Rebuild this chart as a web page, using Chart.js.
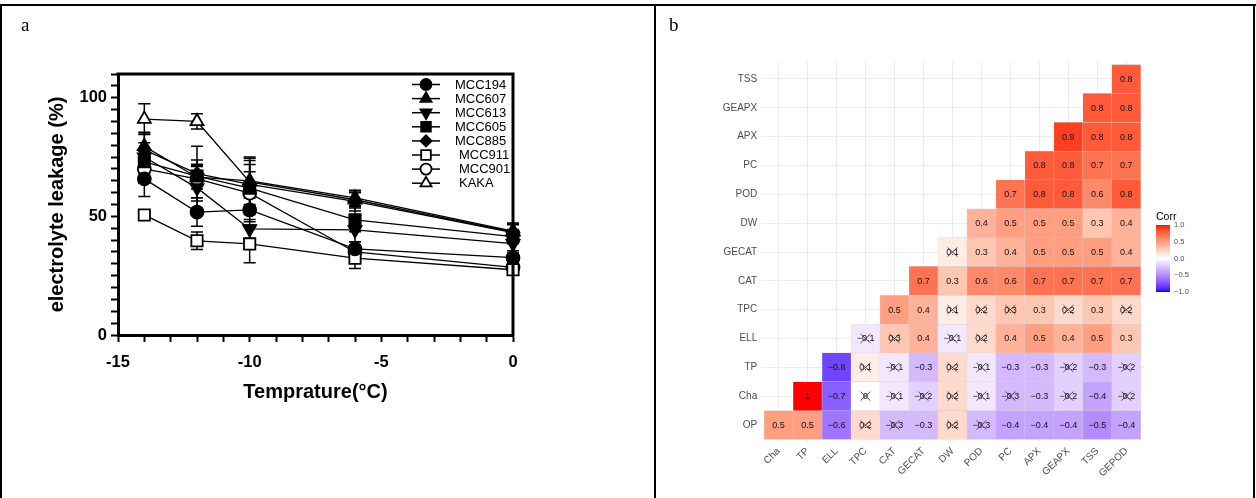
<!DOCTYPE html>
<html>
<head>
<meta charset="utf-8">
<script src="https://cdn.jsdelivr.net/npm/chart.js@4.4.1/dist/chart.umd.min.js"></script>
<style>
  html, body { margin: 0; padding: 0; background: #fff; }
  body { width: 1256px; height: 498px; position: relative; overflow: hidden; }
  canvas { position: absolute; }
  .rule { position: absolute; background: #000; }
  .tag { position: absolute; font-family: "Liberation Serif", "Times New Roman", serif; font-size: 19px; color: #000; }
</style>
</head>
<body>
<canvas id="leak" width="654" height="498" style="left:0;top:0"></canvas>
<canvas id="heat" width="597" height="491" style="left:657px;top:7px"></canvas>

<div class="rule" style="left:0;top:4px;width:1256px;height:2px"></div>
<div class="rule" style="left:0;top:4px;width:2px;height:494px"></div>
<div class="rule" style="left:654px;top:4px;width:2px;height:494px"></div>
<div class="rule" style="left:1253px;top:4px;width:2px;height:494px"></div>
<div class="tag" style="left:21px;top:14px">a</div>
<div class="tag" style="left:669px;top:14px">b</div>

<script>
// ---- panel a: electrolyte leakage ----
const temps = [-14, -12, -10, -6, 0];
const strains = ['MCC194', 'MCC607', 'MCC613', 'MCC605', 'MCC885', 'MCC911', 'MCC901', 'KAKA'];

const leak194 = [65.8, 51.8, 52.7, 36.3, 32.6];
const leak607 = [79.5, 66.5, 65.0, 57.8, 43.8];
const leak613 = [75.0, 62.0, 44.7, 44.3, 38.5];
const leak605 = [73.0, 67.0, 61.9, 48.5, 41.5];
const leak885 = [78.0, 68.0, 63.5, 56.3, 43.2];
const leak911 = [50.6, 39.7, 38.4, 32.4, 27.5];
const leak901 = [70.0, 65.8, 59.8, 35.0, 28.5];
const leakKAKA = [91.0, 90.0, 64.5, 57.0, 43.5];

const err194 = [7.4, 6.0, 5.0, 3.0, 2.0];
const err607 = [6.0, 5.0, 10.0, 3.2, 3.0];
const err613 = [6.0, 10.0, 4.0, 5.0, 3.0];
const err605 = [5.0, 4.0, 10.0, 5.0, 3.0];
const err885 = [6.7, 11.5, 10.0, 4.0, 4.0];
const err911 = [2.0, 3.7, 8.0, 4.4, 2.0];
const err901 = [6.0, 8.0, 9.0, 3.0, 3.0];
const errKAKA = [6.5, 3.2, 10.0, 3.0, 3.0];

const leakage = [leak194, leak607, leak613, leak605, leak885, leak911, leak901, leakKAKA];
const leakageErr = [err194, err607, err613, err605, err885, err911, err901, errKAKA];

const markers = [
  { style: 'circle', r: 6.5, fill: '#000', rot: 0 },
  { style: 'triangle', r: 7.5, fill: '#000', rot: 0 },
  { style: 'triangle', r: 7.5, fill: '#000', rot: 180 },
  { style: 'rect', r: 8, fill: '#000', rot: 0 },
  { style: 'rectRot', r: 6.5, fill: '#000', rot: 0 },
  { style: 'rect', r: 8, fill: '#fff', rot: 0 },
  { style: 'circle', r: 6.5, fill: '#fff', rot: 0 },
  { style: 'triangle', r: 7.5, fill: '#fff', rot: 0 }
];

const sans = '"Liberation Sans", Arial, sans-serif';

const errorBars = {
  id: 'errorBars',
  beforeDatasetsDraw(chart) {
    const { ctx, scales: { x, y } } = chart;
    ctx.save();
    ctx.strokeStyle = '#000';
    ctx.lineWidth = 1.5;
    leakage.forEach((vals, s) => {
      vals.forEach((v, i) => {
        const px = x.getPixelForValue(temps[i]);
        const top = y.getPixelForValue(v + leakageErr[s][i]);
        const bot = y.getPixelForValue(v - leakageErr[s][i]);
        ctx.beginPath();
        ctx.moveTo(px, top); ctx.lineTo(px, bot);
        ctx.moveTo(px - 6, top); ctx.lineTo(px + 6, top);
        ctx.moveTo(px - 6, bot); ctx.lineTo(px + 6, bot);
        ctx.stroke();
      });
    });
    ctx.restore();
  }
};

const frameAndLegend = {
  id: 'frameAndLegend',
  afterDraw(chart) {
    const { ctx, chartArea: a } = chart;
    ctx.save();
    // top and right frame lines
    ctx.strokeStyle = '#000';
    ctx.lineWidth = 3;
    ctx.beginPath();
    ctx.moveTo(a.left - 1.5, a.top);
    ctx.lineTo(a.right, a.top);
    ctx.lineTo(a.right, a.bottom + 1.5);
    ctx.stroke();
    // legend
    strains.forEach((name, i) => {
      const m = markers[i];
      const y = 84.5 + i * 14.1;
      ctx.strokeStyle = '#000';
      ctx.lineWidth = 1.5;
      ctx.beginPath(); ctx.moveTo(412, y); ctx.lineTo(440, y); ctx.stroke();
      ctx.fillStyle = m.fill;
      ctx.lineWidth = 1.8;
      Chart.helpers.drawPoint(ctx, { pointStyle: m.style, rotation: m.rot, radius: m.r * 0.85, borderWidth: 1.8 }, 426, y);
      ctx.fillStyle = '#000';
      ctx.font = '13px ' + sans;
      ctx.textAlign = 'left';
      ctx.textBaseline = 'middle';
      ctx.fillText(name, i < 5 ? 455 : 459, y + 0.5);
    });
    ctx.restore();
  }
};

new Chart(document.getElementById('leak'), {
  type: 'line',
  data: {
    datasets: strains.map((name, s) => ({
      label: name,
      data: temps.map((t, i) => ({ x: t, y: leakage[s][i] })),
      borderColor: '#000',
      borderWidth: 1.3,
      pointStyle: markers[s].style,
      pointRotation: markers[s].rot,
      pointRadius: markers[s].r,
      pointBackgroundColor: markers[s].fill,
      pointBorderColor: '#000',
      pointBorderWidth: 1.8,
      tension: 0,
      clip: false
    }))
  },
  options: {
    responsive: false,
    animation: false,
    events: [],
    layout: { padding: { left: 45, top: 74, right: 141, bottom: 94 } },
    plugins: { legend: { display: false }, tooltip: { enabled: false } },
    scales: {
      x: {
        type: 'linear', min: -15, max: 0,
        afterFit: s => { s.height = 69; },
        ticks: {
          stepSize: 1, autoSkip: false, maxRotation: 0, padding: 11, color: '#000',
          font: { family: sans, size: 16.5, weight: 'bold' },
          callback: v => (v % 5 === 0 ? String(v) : '')
        },
        grid: { drawOnChartArea: false, tickLength: 7, tickWidth: 2, tickColor: '#000' },
        border: { color: '#000', width: 3 },
        title: { display: true, text: 'Temprature(°C)', color: '#000', padding: 0, font: { family: sans, size: 20, weight: 'bold' } }
      },
      y: {
        min: 0, max: 110,
        afterFit: s => { s.width = 73; },
        ticks: {
          stepSize: 5, autoSkip: false, padding: 4, color: '#000',
          font: { family: sans, size: 16.5, weight: 'bold' },
          callback: v => (v % 50 === 0 ? String(v) : '')
        },
        grid: { drawOnChartArea: false, tickLength: 7, tickWidth: 2, tickColor: '#000' },
        border: { color: '#000', width: 3 },
        title: { display: true, text: 'electrolyte leakage (%)', color: '#000', padding: 0, font: { family: sans, size: 20, weight: 'bold' } }
      }
    }
  },
  plugins: [errorBars, frameAndLegend]
});

// ---- panel b: correlation heatmap ----
const corrRows = ['OP', 'Cha', 'TP', 'ELL', 'TPC', 'CAT', 'GECAT', 'DW', 'POD', 'PC', 'APX', 'GEAPX', 'TSS'];
const corrCols = ['Cha', 'TP', 'ELL', 'TPC', 'CAT', 'GECAT', 'DW', 'POD', 'PC', 'APX', 'GEAPX', 'TSS', 'GEPOD'];
// row r holds the values for columns r .. 12
const corrValues = [
  [0.5, 0.5, -0.6, 0.2, -0.3, -0.3, 0.2, -0.3, -0.4, -0.4, -0.4, -0.5, -0.4],
  [1, -0.7, 0, -0.1, -0.2, 0.2, -0.1, -0.3, -0.3, -0.2, -0.4, -0.2],
  [-0.8, 0.1, -0.1, -0.3, 0.2, -0.1, -0.3, -0.3, -0.2, -0.3, -0.2],
  [-0.1, 0.3, 0.4, -0.1, 0.2, 0.4, 0.5, 0.4, 0.5, 0.3],
  [0.5, 0.4, 0.1, 0.2, 0.3, 0.3, 0.2, 0.3, 0.2],
  [0.7, 0.3, 0.6, 0.6, 0.7, 0.7, 0.7, 0.7],
  [0.1, 0.3, 0.4, 0.5, 0.5, 0.5, 0.4],
  [0.4, 0.5, 0.5, 0.5, 0.3, 0.4],
  [0.7, 0.8, 0.8, 0.6, 0.8],
  [0.8, 0.8, 0.7, 0.7],
  [0.9, 0.8, 0.8],
  [0.8, 0.8],
  [0.8]
];
// 1 = not significant (crossed out)
const corrInsig = [
  [0, 0, 0, 1, 1, 0, 1, 1, 0, 0, 0, 0, 0],
  [0, 0, 1, 1, 1, 1, 1, 1, 0, 1, 0, 1],
  [0, 1, 1, 0, 1, 1, 0, 0, 1, 0, 1],
  [1, 1, 0, 1, 1, 0, 0, 0, 0, 0],
  [0, 0, 1, 1, 1, 0, 1, 0, 1],
  [0, 0, 0, 0, 0, 0, 0, 0],
  [1, 0, 0, 0, 0, 0, 0],
  [0, 0, 0, 0, 0, 0],
  [0, 0, 0, 0, 0],
  [0, 0, 0, 0],
  [0, 0, 0],
  [0, 0],
  [0]
];
const legendTicks = [1, 0.5, 0, -0.5, -1];

function lab2rgb(L, a, b) {
  const fy = (L + 16) / 116, fx = fy + a / 500, fz = fy - b / 200;
  const finv = t => (t > 6 / 29 ? t * t * t : 3 * (6 / 29) * (6 / 29) * (t - 4 / 29));
  const X = 0.95047 * finv(fx), Y = finv(fy), Z = 1.08883 * finv(fz);
  const r = 3.2404542 * X - 1.5371385 * Y - 0.4985314 * Z;
  const g = -0.969266 * X + 1.8760108 * Y + 0.041556 * Z;
  const bl = 0.0556434 * X - 0.2040259 * Y + 1.0572252 * Z;
  const gam = c => {
    c = Math.max(0, Math.min(1, c));
    return Math.round(255 * (c <= 0.0031308 ? 12.92 * c : 1.055 * Math.pow(c, 1 / 2.4) - 0.055));
  };
  return 'rgb(' + gam(r) + ',' + gam(g) + ',' + gam(bl) + ')';
}

// white -> red / white -> blue, interpolated in Lab like ggplot
function corrColor(v) {
  const end = v >= 0 ? [53.24, 80.09, 67.2] : [32.3, 79.19, -107.86];
  const t = Math.abs(v);
  return lab2rgb(100 + (end[0] - 100) * t, end[1] * t, end[2] * t);
}

function corrLabel(v) {
  if (v === 0) return '0';
  if (Math.abs(v) === 1) return (v < 0 ? '\u2212' : '') + '1';
  return (v < 0 ? '\u2212' : '') + Math.abs(v).toFixed(1);
}

const cells = [];
corrValues.forEach((row, r) => {
  row.forEach((v, k) => {
    cells.push({ x: r + k, y: [r - 0.5, r + 0.5], v: v, insig: corrInsig[r][k] });
  });
});

const cellText = {
  id: 'cellText',
  afterDatasetsDraw(chart) {
    const ctx = chart.ctx;
    const meta = chart.getDatasetMeta(0);
    ctx.save();
    ctx.font = '9px ' + sans;
    ctx.fillStyle = '#111';
    ctx.textAlign = 'center';
    ctx.textBaseline = 'middle';
    meta.data.forEach((bar, i) => {
      const c = cells[i];
      const p = bar.getCenterPoint();
      ctx.fillText(corrLabel(c.v), p.x, p.y + 0.5);
      if (c.insig) {
        ctx.strokeStyle = '#222';
        ctx.lineWidth = 0.8;
        ctx.beginPath();
        ctx.moveTo(p.x - 5, p.y - 4.5); ctx.lineTo(p.x + 5, p.y + 4.5);
        ctx.moveTo(p.x - 5, p.y + 4.5); ctx.lineTo(p.x + 5, p.y - 4.5);
        ctx.stroke();
      }
    });
    ctx.restore();
  }
};

const colorBar = {
  id: 'colorBar',
  afterDraw(chart) {
    const ctx = chart.ctx;
    const x0 = 499, w = 14, top = 218, h = 67;
    ctx.save();
    ctx.fillStyle = '#000';
    ctx.font = '10.5px ' + sans;
    ctx.textAlign = 'left';
    ctx.textBaseline = 'alphabetic';
    ctx.fillText('Corr', x0, top - 5);
    const grad = ctx.createLinearGradient(0, top, 0, top + h);
    for (let i = 0; i <= 40; i++) grad.addColorStop(i / 40, corrColor(1 - i / 20));
    ctx.fillStyle = grad;
    ctx.fillRect(x0, top, w, h);
    ctx.font = '7.5px ' + sans;
    ctx.fillStyle = '#4d4d4d';
    ctx.textBaseline = 'middle';
    legendTicks.forEach(t => {
      const y = top + (1 - t) / 2 * h;
      ctx.fillText((t < 0 ? '\u2212' : '') + Math.abs(t).toFixed(1), x0 + w + 4, y);
    });
    ctx.restore();
  }
};

new Chart(document.getElementById('heat'), {
  type: 'bar',
  data: {
    datasets: [{
      data: cells,
      backgroundColor: cells.map(c => corrColor(c.v)),
      borderColor: 'rgba(190,190,190,0.55)',
      borderWidth: 0.5,
      borderSkipped: false,
      barPercentage: 1,
      categoryPercentage: 1
    }]
  },
  options: {
    responsive: false,
    animation: false,
    events: [],
    layout: { padding: { left: 0, top: 54.7, right: 110.3, bottom: 0 } },
    plugins: { legend: { display: false }, tooltip: { enabled: false } },
    scales: {
      x: {
        type: 'linear', min: -0.6, max: 12.6, offset: false,
        afterFit: s => { s.height = 55.7; },
        afterBuildTicks: s => { s.ticks = corrCols.map((_, i) => ({ value: i })); },
        ticks: {
          autoSkip: false, minRotation: 45, maxRotation: 45, padding: 3, color: '#4d4d4d',
          font: { family: sans, size: 10 },
          callback: v => corrCols[v]
        },
        grid: { color: '#ececec', lineWidth: 1, drawTicks: false, offset: false },
        border: { display: false }
      },
      y: {
        type: 'linear', min: -0.6, max: 12.6,
        afterFit: s => { s.width = 104.2; },
        afterBuildTicks: s => { s.ticks = corrRows.map((_, i) => ({ value: i })); },
        ticks: {
          autoSkip: false, padding: 4, color: '#4d4d4d',
          font: { family: sans, size: 10 },
          callback: v => corrRows[v]
        },
        grid: { color: '#ececec', lineWidth: 1, drawTicks: false },
        border: { display: false }
      }
    }
  },
  plugins: [cellText, colorBar]
});
</script>
</body>
</html>
